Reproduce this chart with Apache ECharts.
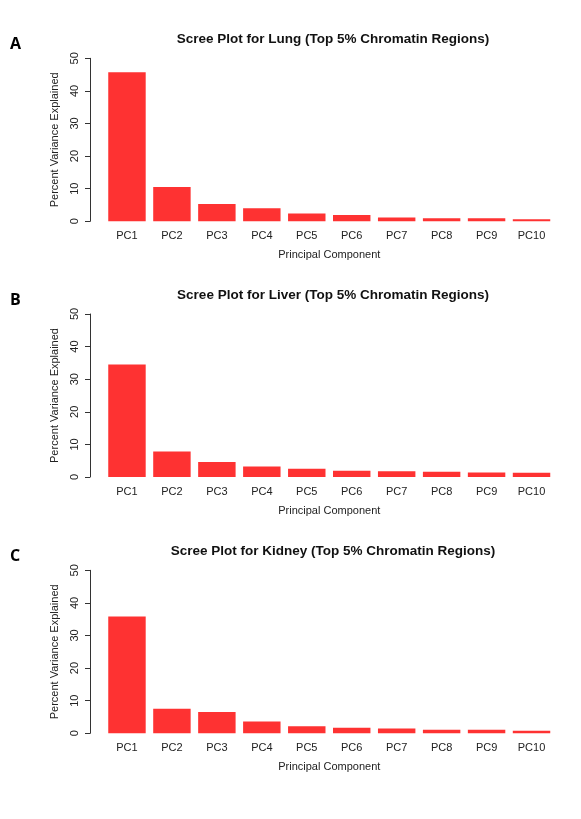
<!DOCTYPE html>
<html>
<head>
<meta charset="utf-8">
<script src="https://cdn.jsdelivr.net/npm/echarts@6/dist/echarts.min.js"></script>
<style>
  html, body { margin: 0; padding: 0; background: #fff; }
  #chart { width: 581px; height: 819px; }
</style>
</head>
<body>
<div id="chart"></div>
<script>
// principal components on the x axis
const components = ['PC1', 'PC2', 'PC3', 'PC4', 'PC5', 'PC6', 'PC7', 'PC8', 'PC9', 'PC10'];

// percent variance explained
const lungVariance = [45.7, 10.5, 5.3, 4.0, 2.4, 1.9, 1.2, 0.9, 0.9, 0.6];
const liverVariance = [34.5, 7.8, 4.6, 3.2, 2.5, 1.9, 1.8, 1.6, 1.4, 1.3];
const kidneyVariance = [35.8, 7.5, 6.5, 3.6, 2.2, 1.7, 1.5, 1.1, 1.1, 0.8];

const panelTitles = [
  'Scree Plot for Lung (Top 5% Chromatin Regions)',
  'Scree Plot for Liver (Top 5% Chromatin Regions)',
  'Scree Plot for Kidney (Top 5% Chromatin Regions)'
];
const panelLetters = ['A', 'B', 'C'];
const yTicks = [0, 10, 20, 30, 40, 50];

const panels = [lungVariance, liverVariance, kidneyVariance];
const gridTops = [58.3, 314, 570.3];
const gridHeight = 163;
const fontFamily = '"Liberation Sans", Arial, Helvetica, sans-serif';
const textColor = '#222';
const barColor = '#FE3232';

const chart = echarts.init(document.getElementById('chart'), null, { renderer: 'canvas' });

const option = {
  animation: false,
  backgroundColor: '#fff',
  title: [],
  grid: [],
  xAxis: [],
  yAxis: [],
  series: []
};

panels.forEach((values, i) => {
  const top = gridTops[i];
  option.title.push({
    text: panelTitles[i],
    left: 328,
    top: top - 31,
    textAlign: 'center',
    textStyle: { fontFamily, fontSize: 13.5, fontWeight: 'bold', color: '#111' }
  });
  option.title.push({
    text: panelLetters[i],
    left: 5,
    top: top - 27,
    textStyle: { fontFamily: '"Open Sans", sans-serif', fontSize: 16, fontWeight: 'bold', color: '#000' }
  });
  option.grid.push({ left: 104.5, top: top, width: 449.5, height: gridHeight });
  option.xAxis.push({
    type: 'category',
    gridIndex: i,
    data: components,
    axisLine: { show: false },
    axisTick: { show: false },
    axisLabel: { margin: 9, fontFamily, fontSize: 11, color: textColor },
    name: 'Principal Component',
    nameLocation: 'middle',
    nameGap: 28.5,
    nameTextStyle: { fontFamily, fontSize: 11, color: textColor }
  });
  option.yAxis.push({
    type: 'value',
    gridIndex: i,
    min: yTicks[0],
    max: yTicks[yTicks.length - 1],
    interval: 10,
    offset: 14.5,
    splitLine: { show: false },
    axisLine: { show: true, lineStyle: { color: '#333', width: 1 } },
    axisTick: { show: true, length: 5, lineStyle: { color: '#333' } },
    axisLabel: { rotate: 90, margin: 10, fontFamily, fontSize: 11, color: textColor },
    name: 'Percent Variance Explained',
    nameLocation: 'middle',
    nameRotate: 90,
    nameGap: 30,
    nameTextStyle: { fontFamily, fontSize: 11, color: textColor }
  });
  option.series.push({
    type: 'bar',
    xAxisIndex: i,
    yAxisIndex: i,
    data: values,
    barCategoryGap: '16.7%',
    itemStyle: { color: barColor }
  });
});

chart.setOption(option);
</script>
</body>
</html>
